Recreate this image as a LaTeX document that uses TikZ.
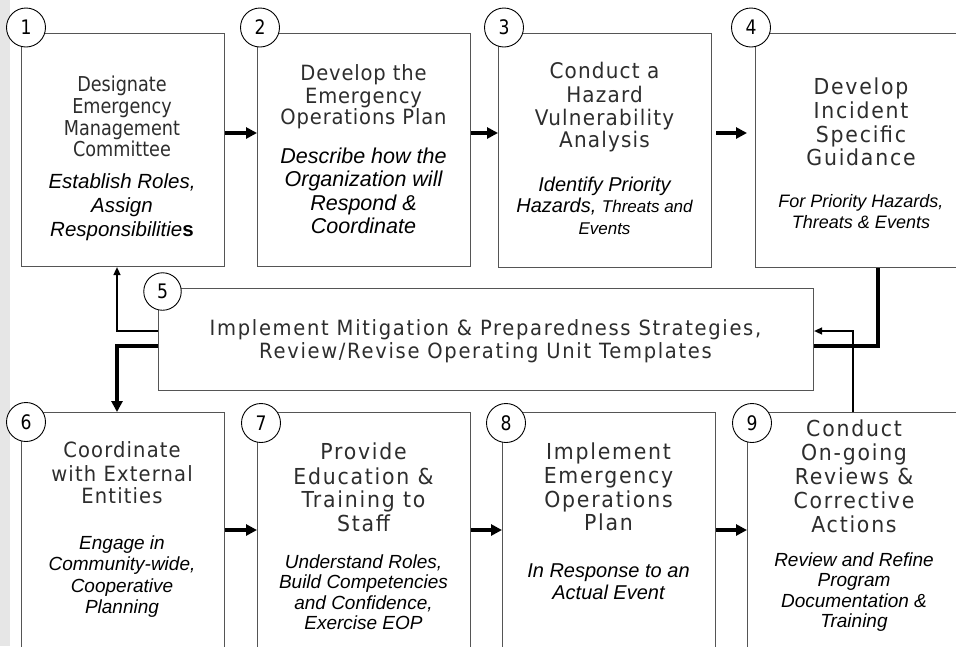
\documentclass[tikz,border=0pt]{standalone}
\usepackage{fontspec}
\setmainfont{DejaVu Sans}
\newfontfamily\headf{DejaVu Sans}[FakeStretch=0.86]
\newfontfamily\headg{DejaVu Sans}[FakeStretch=0.93]
\newfontfamily\arialf{Liberation Sans}
\usetikzlibrary{arrows.meta}
\definecolor{stripgray}{RGB}{230,230,230}
\definecolor{boxline}{RGB}{85,85,85}
\definecolor{headtext}{RGB}{45,45,45}
\newcommand{\hfnt}[3]{\headg\fontsize{#1}{#2}\selectfont\addfontfeature{LetterSpace=#3}}
\begin{document}
\begin{tikzpicture}[x=1pt,y=-1pt,
  boxs/.style={draw=boxline, line width=1.1pt, fill=white, anchor=north west, inner sep=0pt},
  numc/.style={circle, draw=black, line width=0.9pt, fill=white, minimum size=39pt, inner sep=0pt, font={\headf\fontsize{20}{22}\selectfont}},
  head/.style={align=center, inner sep=0pt, text=headtext},
  sub/.style={align=center, inner sep=0pt, text=black},
  thickarrow/.style={line width=3.4pt, -{Triangle[length=11pt,width=11pt]}},
  thinarrow/.style={line width=1.5pt, -{Triangle[length=8pt,width=7pt]}},
  thickline/.style={line width=3.6pt},
]
\useasboundingbox (0,0) rectangle (956,646);
\clip (0,0) rectangle (956,646);
\fill[white] (0,0) rectangle (956,646);
\fill[stripgray] (0,0) rectangle (10,646);

% boxes
\node[boxs, minimum width=203.5, minimum height=233.5] (b1) at (20.5,32.5) {};
\node[boxs, minimum width=213, minimum height=233.5] (b2) at (257,32.5) {};
\node[boxs, minimum width=213, minimum height=234.5] (b3) at (498,32.5) {};
\node[boxs, minimum width=212, minimum height=234.5] (b4) at (755,32.5) {};
\node[boxs, minimum width=655, minimum height=102] (b5) at (158,288) {};
\node[boxs, minimum width=203.5, minimum height=300] (b6) at (20.5,412) {};
\node[boxs, minimum width=213, minimum height=300] (b7) at (257,412) {};
\node[boxs, minimum width=213, minimum height=300] (b8) at (502,412) {};
\node[boxs, minimum width=214, minimum height=300] (b9) at (747,412) {};

% helper coordinates
\coordinate (ra) at (0,133);
\coordinate (rb) at (0,530);
\coordinate (r5a) at (0,331);
\coordinate (r5b) at (0,346);
\coordinate (lx) at (117,0);
\coordinate (rx1) at (878,0);
\coordinate (rx2) at (853,0);

% row arrows
\draw[thickarrow] (b1.east |- ra) -- (b2.west |- ra);
\draw[thickarrow] (b2.east |- ra) -- (b3.west |- ra);
\draw[thickarrow] ([xshift=4pt]b3.east |- ra) -- ([xshift=-8pt]b4.west |- ra);
\draw[thickarrow] (b6.east |- rb) -- (b7.west |- rb);
\draw[thickarrow] (b7.east |- rb) -- (b8.west |- rb);
\draw[thickarrow] (b8.east |- rb) -- (b9.west |- rb);

% box 5 connectors
\draw[thinarrow] (b5.west |- r5a) -| (lx |- b1.south);
\draw[thickarrow, line width=3.6pt] (b5.west |- r5b) -| (lx |- b6.north);
\draw[thickline] (rx1 |- b4.south) |- (b5.east |- r5b);
\draw[thinarrow] (rx2 |- b9.north) |- (b5.east |- r5a);

% number circles
\node[numc] (c1) at (26,27.5) {1};
\node[numc] (c2) at (260,27.5) {2};
\node[numc] (c3) at (504,27.5) {3};
\node[numc] (c4) at (751,27.5) {4};
\node[numc, minimum size=37.5pt] (c5) at (162.5,291.5) {5};
\node[numc] (c6) at (26,422) {6};
\node[numc] (c7) at (261,423) {7};
\node[numc] (c8) at (506,423) {8};
\node[numc] (c9) at (752,423) {9};

% texts
\node[head, font={\headf\fontsize{20.5}{21.3}\selectfont}] (h1) at (122,119.5)
  {\strut Designate\\Emergency\\Management\\Committee\strut};
\node[sub, font={\arialf\itshape\fontsize{20.5}{24}\selectfont}] (i1) at (122,208)
  {\strut Establish Roles,\\Assign\\Responsibilitie{\bfseries\upshape s}\strut};

\node[head, font={\hfnt{21}{21.2}{4}}] (h2) at (363.5,98)
  {\strut Develop the\\Emergency\\Operations Plan\strut};
\node[sub, font={\arialf\itshape\fontsize{21.5}{23.5}\selectfont}] (i2) at (363.5,194)
  {\strut Describe how the\\Organization will\\Respond \&\\Coordinate\strut};

\node[head, font={\hfnt{21.5}{22.5}{5.5}}] (h3) at (604.5,108.5)
  {\strut Conduct a\\Hazard\\Vulnerability\\Analysis\strut};
\node[sub, font={\arialf\itshape\fontsize{20}{21.5}\selectfont}] (i3) at (604.5,208.5)
  {\strut Identify Priority\\Hazards, {\fontsize{17}{21.5}\selectfont Threats and}\\{\fontsize{17}{21.5}\selectfont Events}\strut};

\node[head, font={\hfnt{22}{23.3}{8}}] (h4) at (861,125)
  {\strut Develop\\Incident\\Specific\\Guidance\strut};
\node[sub, font={\arialf\itshape\fontsize{18}{20.5}\selectfont}] (i4) at (861,214)
  {\strut For Priority Hazards,\\Threats \& Events\strut};

\node[head, font={\hfnt{21}{23}{8}}] (h5) at (485.5,342)
  {\strut Implement Mitigation \& Preparedness Strategies,\\Review/Revise Operating Unit Templates\strut};

\node[head, font={\hfnt{21}{22.5}{5.5}}] (h6) at (122,476)
  {\strut Coordinate\\with External\\Entities\strut};
\node[sub, font={\arialf\itshape\fontsize{19}{21.5}\selectfont}] (i6) at (122,577)
  {\strut Engage in\\Community-wide,\\Cooperative\\Planning\strut};

\node[head, font={\hfnt{22}{23.7}{8}}] (h7) at (363.5,490.5)
  {\strut Provide\\Education \&\\Training to\\Staff\strut};
\node[sub, font={\arialf\itshape\fontsize{19}{20.5}\selectfont}] (i7) at (363.5,595)
  {\strut Understand Roles,\\Build Competencies\\and Confidence,\\Exercise EOP\strut};

\node[head, font={\hfnt{22}{23.7}{8}}] (h8) at (608.5,490.5)
  {\strut Implement\\Emergency\\Operations\\Plan\strut};
\node[sub, font={\arialf\itshape\fontsize{20}{20.5}\selectfont}] (i8) at (608.5,584.5)
  {\strut In Response to an\\Actual Event\strut};

\node[head, font={\hfnt{22}{24}{8}}] (h9) at (854,480)
  {\strut Conduct\\On-going\\Reviews \&\\Corrective\\Actions\strut};
\node[sub, font={\arialf\itshape\fontsize{19}{20.5}\selectfont}] (i9) at (854,593)
  {\strut Review and Refine\\Program\\Documentation \&\\Training\strut};
\end{tikzpicture}
\end{document}
